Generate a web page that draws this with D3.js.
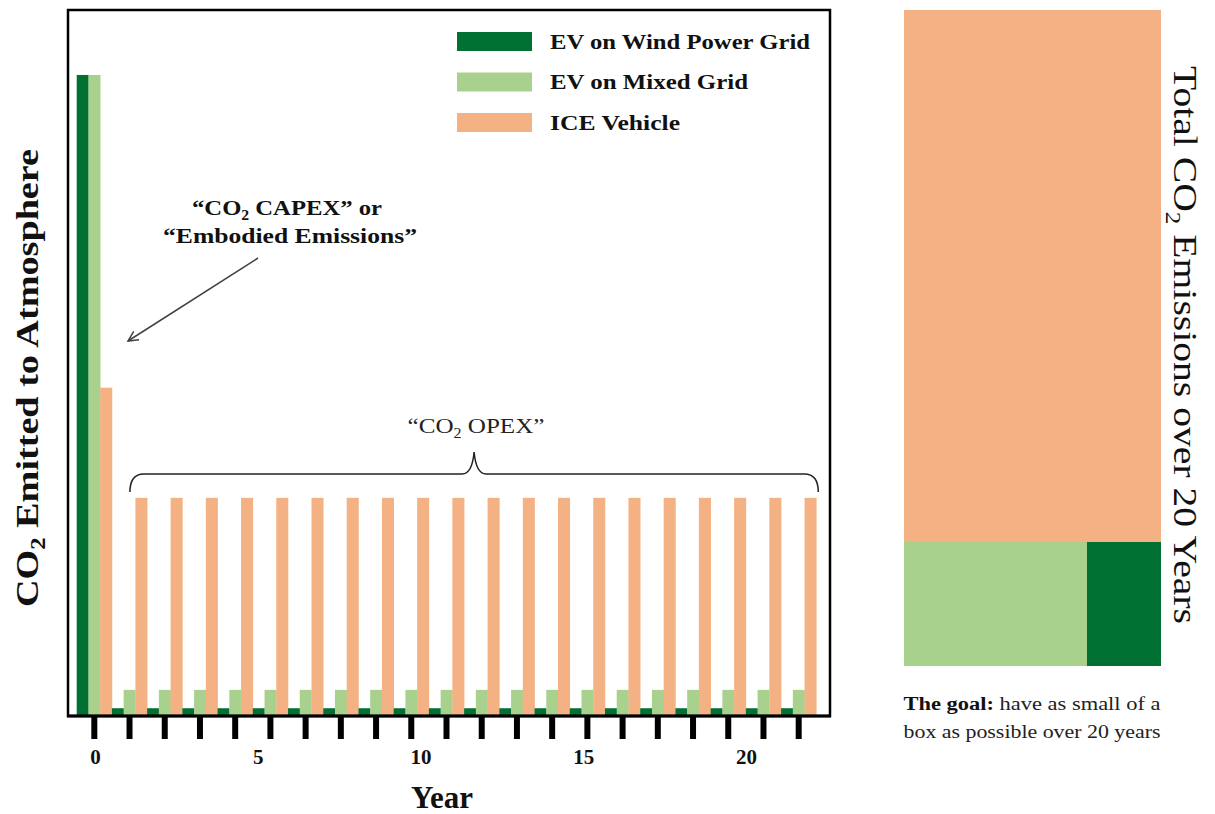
<!DOCTYPE html>
<html>
<head>
<meta charset="utf-8">
<script src="https://cdn.jsdelivr.net/npm/d3@7"></script>
<style>
  body { margin: 0; background: #fff; }
  svg { display: block; font-family: "Liberation Serif", "DejaVu Serif", serif; }
</style>
</head>
<body>
<svg id="chart" width="1215" height="814"></svg>
<script>
// ---------------- data ----------------
const years = [0,1,2,3,4,5,6,7,8,9,10,11,12,13,14,15,16,17,18,19,20];
const seriesNames = ["EV on Wind Power Grid", "EV on Mixed Grid", "ICE Vehicle"];
const seriesColors = ["#007033", "#a9d18e", "#f4b183"];
const windGrid  = [90.8,1.1,1.1,1.1,1.1,1.1,1.1,1.1,1.1,1.1,1.1,1.1,1.1,1.1,1.1,1.1,1.1,1.1,1.1,1.1,1.1];
const mixedGrid = [90.8,3.7,3.7,3.7,3.7,3.7,3.7,3.7,3.7,3.7,3.7,3.7,3.7,3.7,3.7,3.7,3.7,3.7,3.7,3.7,3.7];
const iceVehicle= [46.5,30.9,30.9,30.9,30.9,30.9,30.9,30.9,30.9,30.9,30.9,30.9,30.9,30.9,30.9,30.9,30.9,30.9,30.9,30.9,30.9];
const yearLabels = [0, 5, 10, 15, 20];
// right-hand "total box" (relative shares)
const boxGreenShare = 0.189;   // height share of EV region within ICE box
const boxMixedShare = 0.712;   // width share of mixed-grid part in EV region

const svg = d3.select("#chart");
const allSeries = [windGrid, mixedGrid, iceVehicle];

// ---------------- scales ----------------
const plot = {left: 68, top: 10, right: 830, bottom: 716};
const x = d3.scaleBand().domain(years).range([76.7, 816.3]).paddingInner(0).paddingOuter(0);
const xs = d3.scaleBand().domain(seriesNames).range([0, x.bandwidth()]).padding(0);
const y = d3.scaleLinear().domain([0, 100]).range([plot.bottom, plot.top]);
const xLab = d3.scaleLinear().domain([0, 20]).range([95, 746]);

// ---------------- bars ----------------
const barData = [];
years.forEach((yr, i) => {
  seriesNames.forEach((s, j) => barData.push({year: yr, series: s, value: allSeries[j][i], color: seriesColors[j]}));
});
svg.append("g").selectAll("rect").data(barData).join("rect")
  .attr("x", d => x(d.year) + xs(d.series))
  .attr("width", xs.bandwidth() + 0.3)
  .attr("y", d => y(d.value))
  .attr("height", d => y(0) - y(d.value))
  .attr("fill", d => d.color);

// ---------------- frame ----------------
svg.append("rect")
  .attr("x", plot.left).attr("y", plot.top)
  .attr("width", plot.right - plot.left).attr("height", plot.bottom - plot.top)
  .attr("fill", "none").attr("stroke", "#000").attr("stroke-width", 2.5);
svg.append("line").attr("x1", plot.left - 1).attr("x2", plot.right + 1)
  .attr("y1", plot.bottom).attr("y2", plot.bottom).attr("stroke", "#000").attr("stroke-width", 3);

// ---------------- tick marks ----------------
const tickAxis = svg.append("g").attr("transform", `translate(0,${plot.bottom + 1})`)
  .call(d3.axisBottom(x).tickSize(22).tickFormat(""));
tickAxis.select(".domain").remove();
tickAxis.selectAll(".tick line").attr("stroke", "#000").attr("stroke-width", 6);

// year labels
const labAxis = svg.append("g").attr("transform", `translate(0,${plot.bottom})`)
  .call(d3.axisBottom(xLab).tickValues(yearLabels).tickSize(0).tickPadding(33));
labAxis.select(".domain").remove();
labAxis.selectAll("text").attr("font-family", "Liberation Serif, serif")
  .attr("font-size", 21).attr("font-weight", "bold").attr("fill", "#111");

// axis titles
svg.append("text").attr("x", 442).attr("y", 808).attr("text-anchor", "middle")
  .attr("font-size", 31).attr("font-weight", "bold").attr("fill", "#111").text("Year");

const yt = svg.append("text").attr("transform", "translate(38,378) rotate(-90)")
  .attr("text-anchor", "middle").attr("font-size", 31).attr("font-weight", "bold").attr("fill", "#111")
  .attr("textLength", 458).attr("lengthAdjust", "spacingAndGlyphs");
yt.append("tspan").text("CO");
yt.append("tspan").attr("font-size", 20).attr("dy", 7).text("2");
yt.append("tspan").attr("dy", -7).text(" Emitted to Atmosphere");

// ---------------- legend ----------------
const legY = [32, 72.5, 113];
const legW = [260, 198, 130];
const leg = svg.append("g");
seriesNames.forEach((s, j) => {
  leg.append("rect").attr("x", 457).attr("y", legY[j]).attr("width", 75).attr("height", 19).attr("fill", seriesColors[j]);
  leg.append("text").attr("x", 550).attr("y", legY[j] + 16.5).attr("font-size", 20).attr("font-weight", "bold")
    .attr("fill", "#111").attr("textLength", legW[j]).attr("lengthAdjust", "spacingAndGlyphs").text(s);
});

// ---------------- annotations ----------------
const defs = svg.append("defs");
defs.append("marker").attr("id", "arr").attr("viewBox", "0 0 12 12").attr("refX", 11).attr("refY", 6)
  .attr("markerWidth", 12).attr("markerHeight", 12).attr("markerUnits", "userSpaceOnUse").attr("orient", "auto")
  .append("path").attr("d", "M1,1 L11,6 L1,11").attr("fill", "none").attr("stroke", "#404040").attr("stroke-width", 1.5);
svg.append("line").attr("x1", 258).attr("y1", 258).attr("x2", 128).attr("y2", 341)
  .attr("stroke", "#404040").attr("stroke-width", 1.5).attr("marker-end", "url(#arr)");

const a1 = svg.append("text").attr("x", 287).attr("y", 215).attr("text-anchor", "middle")
  .attr("font-size", 22).attr("font-weight", "bold").attr("fill", "#111")
  .attr("textLength", 190).attr("lengthAdjust", "spacingAndGlyphs");
a1.append("tspan").text("“CO");
a1.append("tspan").attr("font-size", 14).attr("dy", 5).text("2");
a1.append("tspan").attr("dy", -5).text(" CAPEX” or");
svg.append("text").attr("x", 290).attr("y", 243).attr("text-anchor", "middle")
  .attr("font-size", 22).attr("font-weight", "bold").attr("fill", "#111")
  .attr("textLength", 254).attr("lengthAdjust", "spacingAndGlyphs").text("“Embodied Emissions”");

const a2 = svg.append("text").attr("x", 476).attr("y", 433).attr("text-anchor", "middle")
  .attr("font-size", 22).attr("fill", "#222")
  .attr("textLength", 137).attr("lengthAdjust", "spacingAndGlyphs");
a2.append("tspan").text("“CO");
a2.append("tspan").attr("font-size", 14).attr("dy", 5).text("2");
a2.append("tspan").attr("dy", -5).text(" OPEX”");

// brace
const bL = x(1) + 18, bR = x(20) + x.bandwidth() + 2, bM = (bL + bR) / 2, bY = 474;
svg.append("path")
  .attr("d", `M${bL},492 Q${bL},${bY} ${bL + 14},${bY} L${bM - 12},${bY} Q${bM - 2},${bY} ${bM},452 Q${bM + 2},${bY} ${bM + 12},${bY} L${bR - 14},${bY} Q${bR},${bY} ${bR},492`)
  .attr("fill", "none").attr("stroke", "#222").attr("stroke-width", 1.5);

// ---------------- right total box ----------------
const bx = d3.scaleLinear().domain([0, 1]).range([904, 1161]);
const by = d3.scaleLinear().domain([0, 1]).range([666, 10]);
const boxes = [
  {x0: 0, x1: 1, y1: 1, color: seriesColors[2]},
  {x0: 0, x1: boxMixedShare, y1: boxGreenShare, color: seriesColors[1]},
  {x0: boxMixedShare, x1: 1, y1: boxGreenShare, color: seriesColors[0]}
];
svg.append("g").selectAll("rect").data(boxes).join("rect")
  .attr("x", d => bx(d.x0)).attr("width", d => bx(d.x1) - bx(d.x0))
  .attr("y", d => by(d.y1)).attr("height", d => by(0) - by(d.y1))
  .attr("fill", d => d.color);

const rt = svg.append("text").attr("transform", "translate(1174,345) rotate(90)")
  .attr("text-anchor", "middle").attr("font-size", 33).attr("fill", "#111")
  .attr("textLength", 558).attr("lengthAdjust", "spacingAndGlyphs");
rt.append("tspan").text("Total CO");
rt.append("tspan").attr("font-size", 21).attr("dy", 8).text("2");
rt.append("tspan").attr("dy", -8).text(" Emissions over 20 Years");

const g1 = svg.append("text").attr("x", 1032).attr("y", 710).attr("text-anchor", "middle")
  .attr("font-size", 18).attr("fill", "#222").attr("textLength", 257).attr("lengthAdjust", "spacingAndGlyphs");
g1.append("tspan").attr("font-weight", "bold").attr("fill", "#111").text("The goal:");
g1.append("tspan").text(" have as small of a");
svg.append("text").attr("x", 1032).attr("y", 738).attr("text-anchor", "middle")
  .attr("font-size", 18).attr("fill", "#222").attr("textLength", 257).attr("lengthAdjust", "spacingAndGlyphs")
  .text("box as possible over 20 years");
</script>
</body>
</html>
